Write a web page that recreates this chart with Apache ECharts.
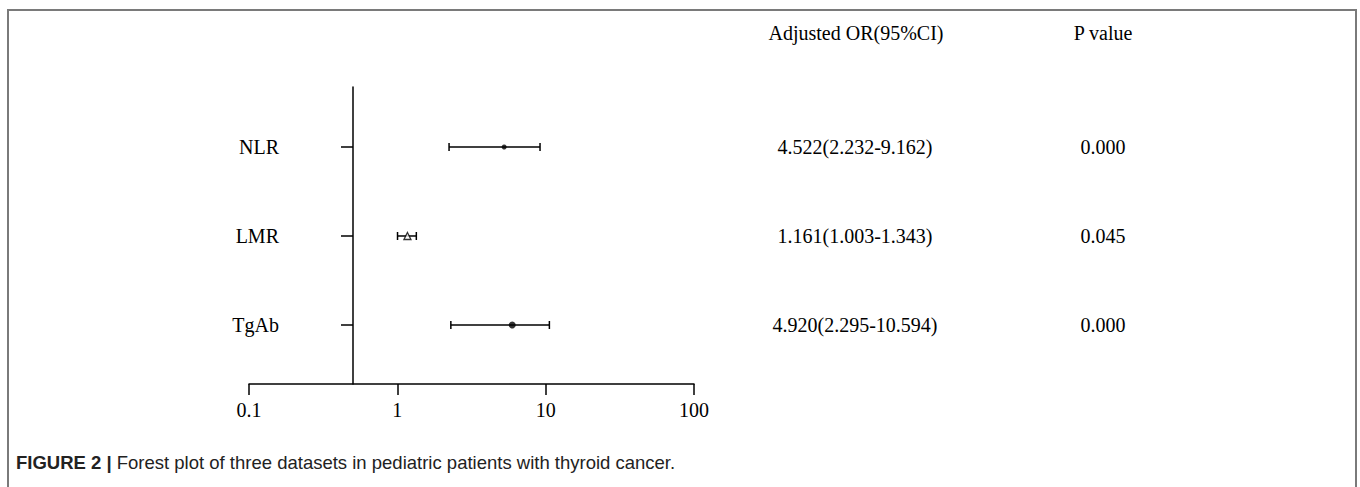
<!DOCTYPE html>
<html><head><meta charset="utf-8">
<script src="https://cdn.jsdelivr.net/npm/echarts@6/dist/echarts.min.js"></script>
<style>html,body{margin:0;padding:0;background:#fff}#c{width:1360px;height:487px}</style>
</head><body><div id="c"></div>
<script>
// ---- data ----
const categories = ['NLR', 'LMR', 'TgAb'];
const orPlotted = [5.25, 1.17, 5.95];          // point estimates as drawn
const ciLow = [2.232, 1.003, 2.295];
const ciHigh = [9.162, 1.343, 10.594];
const orText = ['4.522(2.232-9.162)', '1.161(1.003-1.343)', '4.920(2.295-10.594)'];
const pText = ['0.000', '0.045', '0.000'];
const xTickLabels = ['0.1', '1', '10', '100'];
const headerOR = 'Adjusted OR(95%CI)';
const headerP = 'P value';
const captionBold = 'FIGURE 2 |';
const captionText = 'Forest plot of three datasets in pediatric patients with thyroid cancer.';

// ---- styles ----
const SERIF = '"Liberation Serif", "Times New Roman", serif';
const SANS = '"Liberation Sans", Arial, sans-serif';
const markerStyles = [
  { symbol: 'circle', symbolSize: 5, itemStyle: { color: '#000' } },
  { symbol: 'triangle', symbolSize: 7, itemStyle: { color: '#fff', borderColor: '#000', borderWidth: 1.3 } },
  { symbol: 'circle', symbolSize: 7, itemStyle: { color: '#000' } }
];
const rowIdx = categories.map((_, i) => i);
const yMin = -0.674, yMax = 2.663;

const chart = echarts.init(document.getElementById('c'), null, { renderer: 'svg' });

const option = {
  animation: false,
  backgroundColor: '#fff',
  grid: [
    { left: 249, width: 445, top: 87, height: 297 },
    { left: 353, width: 10, top: 87, height: 297 }
  ],
  xAxis: [
    {
      gridIndex: 0, type: 'log', logBase: 10, min: 0.1, max: 100, position: 'bottom',
      axisLine: { show: true, onZero: false, lineStyle: { color: '#000', width: 1.5 } },
      axisTick: { show: true, length: 11, lineStyle: { color: '#000', width: 1.5 } },
      minorTick: { show: false },
      splitLine: { show: false },
      axisLabel: {
        color: '#000', fontFamily: SERIF, fontSize: 20, margin: 16,
        formatter: v => xTickLabels.find(t => Math.abs(parseFloat(t) - v) < 1e-9 * Math.max(1, v)) || ''
      }
    },
    { gridIndex: 1, type: 'value', show: false }
  ],
  yAxis: [
    { gridIndex: 0, type: 'value', inverse: true, min: yMin, max: yMax, show: false },
    {
      gridIndex: 1, type: 'value', inverse: true, min: yMin, max: yMax, position: 'left',
      axisLine: { show: true, onZero: false, lineStyle: { color: '#000', width: 1.5 } },
      axisTick: { show: true, length: 12, customValues: rowIdx, lineStyle: { color: '#000', width: 1.5 } },
      axisLabel: {
        show: true, customValues: rowIdx, margin: 74,
        color: '#000', fontFamily: SERIF, fontSize: 20,
        formatter: v => categories[Math.round(v)] || ''
      },
      splitLine: { show: false }
    }
  ],
  series: [
    {
      type: 'custom', xAxisIndex: 0, yAxisIndex: 0,
      data: rowIdx.map(i => [ciLow[i], ciHigh[i], i]),
      encode: { x: [0, 1], y: 2 },
      renderItem: function (params, api) {
        const p1 = api.coord([api.value(0), api.value(2)]);
        const p2 = api.coord([api.value(1), api.value(2)]);
        const cap = 4;
        const st = { stroke: '#000', lineWidth: 1.5 };
        return {
          type: 'group',
          children: [
            { type: 'line', shape: { x1: p1[0], y1: p1[1], x2: p2[0], y2: p2[1] }, style: st },
            { type: 'line', shape: { x1: p1[0], y1: p1[1] - cap, x2: p1[0], y2: p1[1] + cap }, style: st },
            { type: 'line', shape: { x1: p2[0], y1: p2[1] - cap, x2: p2[0], y2: p2[1] + cap }, style: st }
          ]
        };
      },
      z: 2
    },
    {
      type: 'scatter', xAxisIndex: 0, yAxisIndex: 0,
      data: rowIdx.map(i => Object.assign({ value: [orPlotted[i], i] }, markerStyles[i])),
      z: 3
    }
  ]
};
chart.setOption(option);

const rowY = rowIdx.map(i => chart.convertToPixel({ yAxisIndex: 0 }, i));
const textStyle = (t, x, y, extra) => ({
  type: 'text', x: x, y: y, silent: true,
  style: Object.assign({ text: t, fill: '#000', font: '20px ' + SERIF, align: 'center', verticalAlign: 'middle' }, extra || {})
});
const graphics = [
  { type: 'polyline', shape: { points: [[8, 487], [8, 10], [1356, 10], [1356, 487]] }, style: { stroke: '#7a7a7a', lineWidth: 2, fill: null }, silent: true },
  textStyle(headerOR, 856, 33),
  textStyle(headerP, 1103, 33)
];
rowIdx.forEach(i => {
  graphics.push(textStyle(orText[i], 855, rowY[i]));
  graphics.push(textStyle(pText[i], 1103, rowY[i]));
});
graphics.push({
  type: 'text', x: 16, y: 462, silent: true,
  style: {
    text: '{b|' + captionBold + '} ' + captionText,
    fill: '#222', font: '18.5px ' + SANS, align: 'left', verticalAlign: 'middle',
    rich: { b: { fontWeight: 'bold', fontFamily: SANS, fontSize: 18.5, fill: '#222' } }
  }
});
chart.setOption({ graphic: graphics });
</script>
</body></html>
